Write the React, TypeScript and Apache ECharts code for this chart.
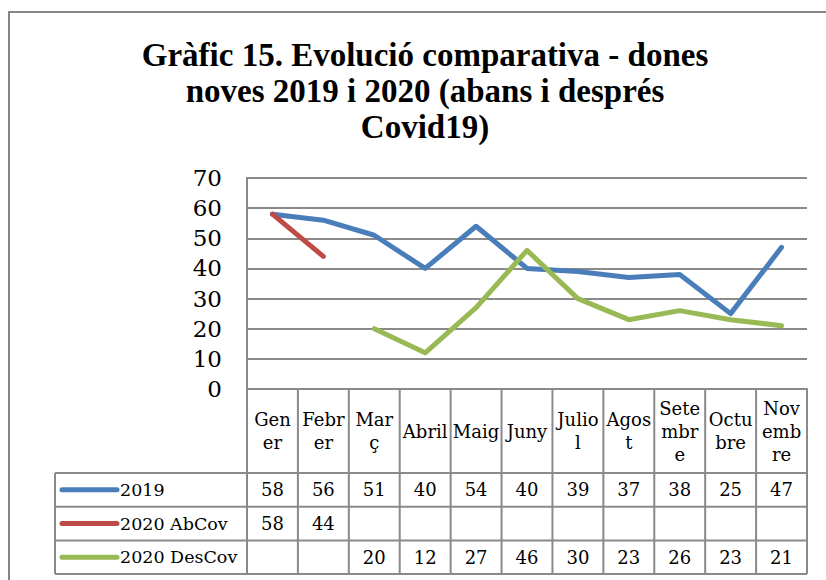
import React, { useEffect, useRef } from "react";
import * as echarts from "echarts";

const titleText = "Gràfic 15. Evolució comparativa - dones\nnoves 2019 i 2020 (abans i després\nCovid19)";
const categoryLabels = [
  "Gen\ner", "Febr\ner", "Mar\nç", "Abril", "Maig", "Juny",
  "Julio\nl", "Agos\nt", "Sete\nmbr\ne", "Octu\nbre", "Nov\nemb\nre",
];
const seriesNames = ["2019", "2020 AbCov", "2020 DesCov"];
const values2019 = [58, 56, 51, 40, 54, 40, 39, 37, 38, 25, 47];
const values2020AbCov = [58, 44, null, null, null, null, null, null, null, null, null];
const values2020DesCov = [null, null, 20, 12, 27, 46, 30, 23, 26, 23, 21];
const seriesColors = ["#4A7EBB", "#BE4B48", "#98B954"];

const FONT = "'DejaVu Serif', serif";
const GRID = "#8a8a8a";

export default function App() {
  const ref = useRef<HTMLDivElement>(null);
  useEffect(() => {
    if (!ref.current) return;
    const chart = echarts.init(ref.current, null, { renderer: "svg" });
    const allSeries = [values2019, values2020AbCov, values2020DesCov];
    chart.setOption({
      animation: false,
      backgroundColor: "#ffffff",
      title: {
        text: titleText,
        left: 425,
        top: 37,
        padding: 0,
        textAlign: "center",
        textStyle: {
          fontFamily: "'Liberation Serif', serif",
          fontWeight: "bold",
          fontSize: 33,
          lineHeight: 36,
          color: "#000",
        },
      },
      grid: { left: 247, right: 19, top: 178, bottom: 191, containLabel: false },
      xAxis: {
        type: "category",
        data: categoryLabels,
        boundaryGap: true,
        axisLine: { show: true, lineStyle: { color: GRID, width: 2 } },
        axisTick: { show: false },
        axisLabel: {
          interval: 0,
          margin: 42,
          verticalAlign: "middle",
          align: "center",
          fontFamily: FONT,
          fontSize: 18,
          lineHeight: 23,
          color: "#000",
        },
      },
      yAxis: {
        type: "value",
        min: 0,
        max: 70,
        interval: 10,
        axisLine: { show: true, lineStyle: { color: GRID, width: 2 } },
        axisTick: { show: false },
        splitLine: { show: true, lineStyle: { color: GRID, width: 2 } },
        axisLabel: { margin: 25, fontFamily: FONT, fontSize: 23, color: "#000" },
      },
      series: allSeries.map((d, i) => ({
        name: seriesNames[i],
        type: "line",
        data: d,
        symbol: "none",
        connectNulls: false,
        lineStyle: { color: seriesColors[i], width: 5, cap: "round", join: "round" },
        itemStyle: { color: seriesColors[i] },
      })),
    });

    // Build data table from axis scales
    const c0 = chart.convertToPixel({ xAxisIndex: 0 }, 0) as number;
    const c1 = chart.convertToPixel({ xAxisIndex: 0 }, 1) as number;
    const band = c1 - c0;
    const tableLeftX = c0 - band / 2;
    const tableRightX = tableLeftX + band * categoryLabels.length;
    const yZero = chart.convertToPixel({ yAxisIndex: 0 }, 0) as number;
    const headerBottom = yZero + 84;
    const rowH = 33.7;
    const legendLeft = 55;
    const tableBottom = headerBottom + rowH * 3;

    const graphics: any[] = [];
    const ln = (x1: number, y1: number, x2: number, y2: number) => ({
      type: "line",
      shape: { x1, y1, x2, y2 },
      style: { stroke: GRID, lineWidth: 2 },
      z: 1,
    });
    // frame
    graphics.push({
      type: "rect",
      shape: { x: 9, y: 12, width: 840, height: 600 },
      style: { fill: "none", stroke: "#868686", lineWidth: 2 },
      z: 0,
    });
    // horizontal lines
    for (let r = 0; r <= 3; r++) {
      const y = headerBottom + rowH * r;
      graphics.push(ln(legendLeft, y, tableRightX, y));
    }
    // vertical lines
    graphics.push(ln(legendLeft, headerBottom, legendLeft, tableBottom));
    graphics.push(ln(tableLeftX, yZero, tableLeftX, tableBottom));
    for (let k = 1; k <= categoryLabels.length; k++) {
      const x = tableLeftX + band * k;
      graphics.push(ln(x, yZero, x, tableBottom));
    }
    // rows
    allSeries.forEach((d, r) => {
      const yc = headerBottom + rowH * r + rowH / 2;
      graphics.push({
        type: "line",
        shape: { x1: 62, y1: yc, x2: 117, y2: yc },
        style: { stroke: seriesColors[r], lineWidth: 5, lineCap: "round" },
        z: 2,
      });
      graphics.push({
        type: "text",
        style: {
          text: seriesNames[r],
          x: 120,
          y: yc,
          align: "left",
          verticalAlign: "middle",
          font: `17.5px ${FONT}`,
          fill: "#000",
        },
        z: 2,
      });
      d.forEach((v, i) => {
        if (v === null) return;
        const xc = chart.convertToPixel({ xAxisIndex: 0 }, i) as number;
        graphics.push({
          type: "text",
          style: {
            text: String(v),
            x: xc,
            y: yc,
            align: "center",
            verticalAlign: "middle",
            font: `18px ${FONT}`,
            fill: "#000",
          },
          z: 2,
        });
      });
    });
    chart.setOption({ graphic: graphics });

    return () => chart.dispose();
  }, []);
  return (
    <div
      ref={ref}
      style={{ position: "absolute", left: 0, top: 0, width: 826, height: 580 }}
    />
  );
}
